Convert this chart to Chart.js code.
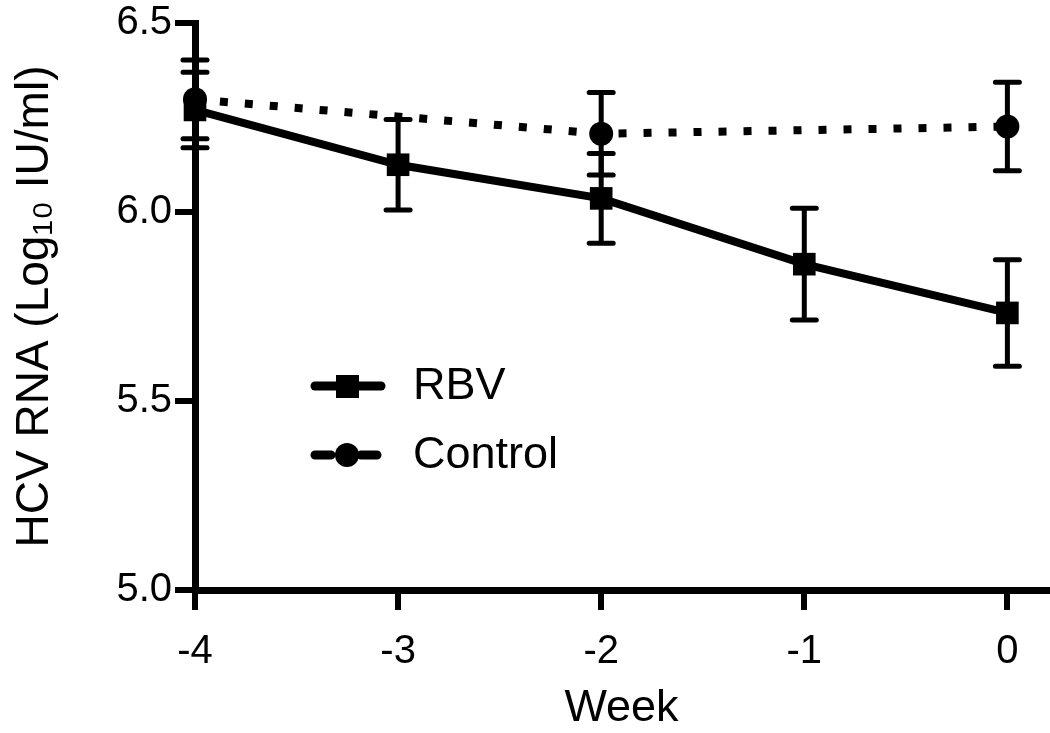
<!DOCTYPE html>
<html>
<head>
<meta charset="utf-8">
<title>HCV RNA</title>
<script src="https://cdn.jsdelivr.net/npm/chart.js@4.4.1/dist/chart.umd.min.js"></script>
<style>
	html, body { margin: 0; padding: 0; background: #fff; overflow: hidden; }
	#box { width: 1050px; height: 733px; position: relative; }
</style>
</head>
<body>
<div id="box"><canvas id="hcvChart"></canvas></div>
<script>
// values
const weeks = [-4, -3, -2, -1, 0];
const weekTicks = [-4, -3, -2, -1, 0];
const valueTicks = [5.0, 5.5, 6.0, 6.5];

const rbvMean = [6.27, 6.125, 6.036, 5.862, 5.733];
const rbvSem = [0.10, 0.12, 0.119, 0.148, 0.141];

const controlMean = [6.298, null, 6.207, null, 6.226];
const controlSem = [0.104, null, 0.109, null, 0.117];

const seriesNames = ['RBV', 'Control'];

const FONT = '"Liberation Sans", Arial, Helvetica, sans-serif';

const toPoints = (ys) => weeks.map((x, i) => ({ x, y: ys[i] }));

// error bars, drawn through the chart scales, under the markers
const errorBarPlugin = {
	id: 'errorBars',
	beforeDatasetsDraw(chart) {
		const { ctx, scales } = chart;
		const xs = scales.x;
		const ys = scales.y;
		const sets = [
			[rbvMean, rbvSem],
			[controlMean, controlSem],
		];
		ctx.save();
		ctx.strokeStyle = '#000';
		ctx.lineWidth = 5;
		ctx.lineCap = 'round';
		sets.forEach(([mean, sem]) => {
			mean.forEach((m, i) => {
				if (m === null || sem[i] === null) return;
				const px = xs.getPixelForValue(weeks[i]);
				const top = ys.getPixelForValue(m + sem[i]);
				const bot = ys.getPixelForValue(m - sem[i]);
				ctx.beginPath();
				ctx.moveTo(px, top);
				ctx.lineTo(px, bot);
				ctx.moveTo(px - 12, top);
				ctx.lineTo(px + 12, top);
				ctx.moveTo(px - 12, bot);
				ctx.lineTo(px + 12, bot);
				ctx.stroke();
			});
		});
		ctx.restore();
	},
};

// legend sitting inside the plot, like the original figure
const innerLegendPlugin = {
	id: 'innerLegend',
	afterDraw(chart, args, opts) {
		const { ctx } = chart;
		const { x, y, rowGap } = opts;
		ctx.save();
		chart.data.datasets.forEach((ds, i) => {
			const cy = y + i * rowGap;
			ctx.strokeStyle = ds.borderColor;
			ctx.lineWidth = 9;
			ctx.lineCap = 'round';
			if (ds.borderDash && ds.borderDash.length) {
				ctx.setLineDash([16, 30]);
			} else {
				ctx.setLineDash([]);
			}
			ctx.beginPath();
			ctx.moveTo(x + 4, cy);
			ctx.lineTo(x + 70, cy);
			ctx.stroke();
			ctx.setLineDash([]);
			ctx.fillStyle = ds.pointBackgroundColor;
			ctx.beginPath();
			if (ds.pointStyle === 'rect') {
				ctx.rect(x + 25, cy - 11, 23, 23);
			} else {
				ctx.arc(x + 36, cy, 12, 0, Math.PI * 2);
			}
			ctx.fill();
			ctx.fillStyle = '#000';
			ctx.font = `45px ${FONT}`;
			ctx.textBaseline = 'middle';
			ctx.textAlign = 'left';
			ctx.fillText(ds.label, x + 102, cy + 1);
		});
		ctx.restore();
	},
};

const chartOptions = () => ({
	type: 'line',
	data: {
		datasets: [
			{
				label: seriesNames[0],
				data: toPoints(rbvMean),
				borderColor: '#000',
				borderWidth: 8,
				pointStyle: 'rect',
				pointRadius: 16,
				pointHoverRadius: 16,
				pointBorderWidth: 0,
				pointBackgroundColor: '#000',
				clip: false,
			},
			{
				label: seriesNames[1],
				data: toPoints(controlMean),
				borderColor: '#000',
				borderWidth: 8,
				borderDash: [8, 17],
				spanGaps: true,
				pointStyle: 'circle',
				pointRadius: 12,
				pointHoverRadius: 12,
				pointBorderWidth: 0,
				pointBackgroundColor: '#000',
				clip: false,
			},
		],
	},
	options: {
		responsive: true,
		maintainAspectRatio: false,
		animation: false,
		events: [],
		layout: {
			autoPadding: false,
			padding: { left: 6, top: 21, right: 2, bottom: 0 },
		},
		plugins: {
			legend: { display: false },
			tooltip: { enabled: false },
			innerLegend: { x: 311, y: 386, rowGap: 69 },
		},
		scales: {
			x: {
				type: 'linear',
				min: -4,
				max: 0.2,
				afterBuildTicks: (scale) => {
					scale.ticks = weekTicks.map((v) => ({ value: v }));
				},
				afterFit: (scale) => {
					scale.height = 143;
					scale.paddingLeft = 0;
					scale.paddingRight = 0;
				},
				grid: {
					drawOnChartArea: false,
					drawTicks: true,
					tickLength: 20,
					lineWidth: 6,
					color: '#000',
				},
				border: { display: true, color: '#000', width: 7 },
				ticks: {
					color: '#000',
					padding: 22,
					maxRotation: 0,
					font: { family: FONT, size: 40, lineHeight: 1 },
				},
				title: {
					display: true,
					text: 'Week',
					color: '#000',
					padding: { top: 0, bottom: 0 },
					font: { family: FONT, size: 45, lineHeight: 1.1 },
				},
			},
			y: {
				type: 'linear',
				min: 5.0,
				max: 6.5,
				afterBuildTicks: (scale) => {
					scale.ticks = valueTicks.map((v) => ({ value: v }));
				},
				afterFit: (scale) => {
					scale.width = 189;
				},
				grid: {
					drawOnChartArea: false,
					drawTicks: true,
					tickLength: 20,
					lineWidth: 6,
					color: '#000',
				},
				border: { display: true, color: '#000', width: 7 },
				ticks: {
					color: '#000',
					padding: 3,
					callback: (v) => Number(v).toFixed(1),
					font: { family: FONT, size: 40, lineHeight: 1 },
				},
				title: {
					display: true,
					text: 'HCV RNA (Log₁₀ IU/ml)',
					color: '#000',
					padding: { top: 2, bottom: 0 },
					font: { family: FONT, size: 46, lineHeight: 1.2 },
				},
			},
		},
	},
	plugins: [errorBarPlugin, innerLegendPlugin],
});

const hcvChart = new Chart(
	document.getElementById('hcvChart').getContext('2d'),
	chartOptions(),
);
</script>
</body>
</html>
